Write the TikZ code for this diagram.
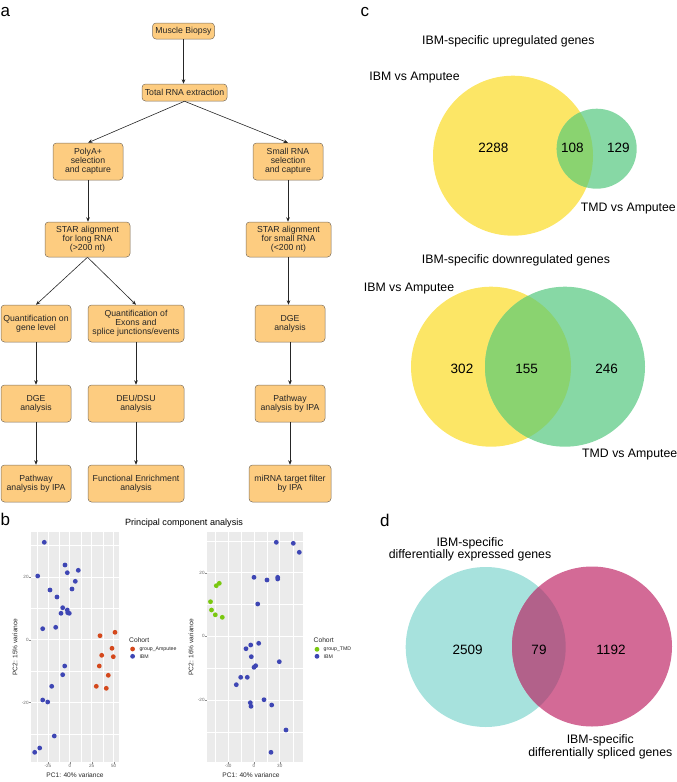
\documentclass[tikz,border=0pt]{standalone}
\usepackage{fontspec}
\setmainfont{Liberation Sans}
\usetikzlibrary{arrows.meta}
\definecolor{boxfill}{RGB}{253,204,128}
\definecolor{boxdraw}{RGB}{125,112,95}
\definecolor{ibmblue}{RGB}{62,70,180}
\definecolor{ampred}{RGB}{212,72,28}
\definecolor{tmdgreen}{RGB}{122,200,16}
\definecolor{panelgray}{RGB}{235,235,235}
\definecolor{vyellow}{RGB}{252,230,102}
\definecolor{vgreen}{RGB}{135,216,165}
\definecolor{vover}{RGB}{138,211,112}
\definecolor{vcyan}{RGB}{167,226,221}
\definecolor{vpink}{RGB}{211,106,150}
\definecolor{vpover}{RGB}{178,97,138}
\begin{document}
\begin{tikzpicture}[x=1pt,y=-1pt,
  flowbox/.style={draw=boxdraw, fill=boxfill, line width=0.5pt, rounded corners=3.5pt,
    align=center, inner sep=0pt, font=\fontsize{8.7}{9.2}\selectfont, text=black!85},
  arr/.style={-{Stealth[length=4.5pt,width=3.6pt]}, line width=0.6pt, black!85},
  panellbl/.style={font=\fontsize{17}{17}\selectfont, anchor=base west, inner sep=0pt},
  minorgrid/.style={white, line width=0.3pt},
  majorgrid/.style={white, line width=0.7pt},
  tickmark/.style={black!45, line width=0.4pt},
  ticklbl/.style={font=\fontsize{4.6}{5}\selectfont, text=black!60, inner sep=0.5pt},
  axtitle/.style={font=\fontsize{6.6}{7}\selectfont, text=black!85, inner sep=0pt},
  legtitle/.style={font=\fontsize{6.7}{7}\selectfont, text=black!85, anchor=west, inner sep=0pt},
  legtext/.style={font=\fontsize{5.2}{6}\selectfont, text=black!85, anchor=west, inner sep=0pt},
  venntitle/.style={font=\fontsize{12.3}{12.5}\selectfont, align=center, inner sep=0pt},
  vennnum/.style={font=\fontsize{13.5}{14}\selectfont, inner sep=0pt},
  ]
\useasboundingbox (0,0) rectangle (677,782);

% ---------------- panel a ----------------
\node[panellbl] (la) at (0.5,16.7) {a};
\node[flowbox, minimum width=62pt, minimum height=16pt] (biopsy) at (183.5,31) {Muscle Biopsy};
\node[flowbox, minimum width=85pt, minimum height=17pt] (total) at (184.5,92.5) {Total RNA extraction};
\node[flowbox, minimum width=70pt, minimum height=37pt] (polya) at (88,161.5) {PolyA+\\selection\\and capture};
\node[flowbox, minimum width=70pt, minimum height=37pt] (small) at (288,161.5) {Small RNA\\selection\\and capture};
\node[flowbox, minimum width=85pt, minimum height=35pt] (starl) at (87.5,239.5) {STAR alignment\\for long RNA\\(>200 nt)};
\node[flowbox, minimum width=85pt, minimum height=35pt] (stars) at (288.5,239.5) {STAR alignment\\for small RNA\\(<200 nt)};
\node[flowbox, minimum width=70pt, minimum height=37pt] (qgene) at (36,323.5) {Quantification on\\gene level};
\node[flowbox, minimum width=96pt, minimum height=37pt] (qexon) at (136,323.5) {Quantification of\\Exons and\\splice junctions/events};
\node[flowbox, minimum width=70pt, minimum height=37pt] (dger) at (290,323.5) {DGE\\analysis};
\node[flowbox, minimum width=70pt, minimum height=37pt] (dgel) at (36,403.5) {DGE\\analysis};
\node[flowbox, minimum width=96pt, minimum height=37pt] (deu) at (136,403.5) {DEU/DSU\\analysis};
\node[flowbox, minimum width=70pt, minimum height=37pt] (pathr) at (290,403.5) {Pathway\\analysis by IPA};
\node[flowbox, minimum width=70pt, minimum height=37pt] (pathl) at (36,483.5) {Pathway\\analysis by IPA};
\node[flowbox, minimum width=96pt, minimum height=37pt] (fea) at (136,483.5) {Functional Enrichment\\analysis};
\node[flowbox, minimum width=82pt, minimum height=37pt] (mirna) at (290,483.5) {miRNA target filter\\by IPA};

\draw[arr] (biopsy.south) -- (biopsy.south |- total.north);
\draw[arr] (total.south) -- (polya.north);
\draw[arr] (total.south) -- (small.north);
\draw[arr] (polya.south) -- (polya.south |- starl.north);
\draw[arr] (small.south) -- (small.south |- stars.north);
\draw[arr] (starl.south) -- (qgene.north);
\draw[arr] (starl.south) -- (qexon.north);
\draw[arr] (stars.south) -- (stars.south |- dger.north);
\draw[arr] (qgene.south) -- (dgel.north);
\draw[arr] (qexon.south) -- (deu.north);
\draw[arr] (dger.south) -- (pathr.north);
\draw[arr] (dgel.south) -- (pathl.north);
\draw[arr] (deu.south) -- (fea.north);
\draw[arr] (pathr.south) -- (mirna.north);

% ---------------- panel b ----------------
\node[panellbl] (lb) at (0.5,525) {b};
\node[font=\fontsize{9.1}{10}\selectfont, inner sep=0pt] (pcatitle) at (184,523.5) {Principal component analysis};

% left plot
\fill[panelgray] (31,532) rectangle (119,762);
\foreach \gx in {36.9,58.8,80.8,102.7} \draw[minorgrid] (\gx,532) -- (\gx,762);
\foreach \gy in {545.5,608.3,671.1,733.9} \draw[minorgrid] (31,\gy) -- (119,\gy);
\foreach \gx in {47.9,69.8,91.7,113.7} \draw[majorgrid] (\gx,532) -- (\gx,762);
\foreach \gy in {576.9,639.7,702.5} \draw[majorgrid] (31,\gy) -- (119,\gy);
\foreach \gy/\lab in {576.9/20,639.7/0,702.5/-20} {
  \draw[tickmark] (29.3,\gy) -- (31,\gy);
  \node[ticklbl, anchor=east] at (29.3,\gy) {\lab};
}
\foreach \gx/\lab in {47.9/-25,69.8/0,91.7/25,113.7/50} {
  \draw[tickmark] (\gx,762) -- (\gx,763.7);
  \node[ticklbl, anchor=north] at (\gx,764) {\lab};
}
\foreach \px/\py in {44.3/542.3,65/565,67.3/572.7,78.3/570.3,37.7/576,75.3/581.3,50/590,72/589,57/597,62.7/607.7,67.3/610,67.7/612.7,61/613.3,69.3/613.3,42.7/628.7,55.7/627.3,64.7/666,62.7/674.7,51.7/686.3,42.7/700,47.7/702,54.3/736,39.7/748,34.7/752.3}
  \fill[ibmblue] (\px,\py) circle[radius=2.4pt];
\foreach \px/\py in {100/635.7,115/632.3,112/648.3,101.7/655.3,113.3/656.7,99.3/666,108.3/675.3,96.3/686.3,106.3/688.3}
  \fill[ampred] (\px,\py) circle[radius=2.4pt];
\node[axtitle] (x1) at (75,775) {PC1: 40\% variance};
\node[axtitle, rotate=90] (y1) at (15,647) {PC2: 15\% variance};
\node[legtitle] (c1) at (129,639.7) {Cohort};
\fill[ampred] (132.6,649) circle[radius=2.4pt];
\fill[ibmblue] (132.6,656.3) circle[radius=2.4pt];
\node[legtext] (g1) at (139.3,649) {group\_Amputee};
\node[legtext] (i1) at (139.3,656.3) {IBM};

% right plot
\fill[panelgray] (207,532) rectangle (303,762);
\foreach \gx in {215.3,241.1,266.9,292.7} \draw[minorgrid] (\gx,532) -- (\gx,762);
\foreach \gy in {540.9,604.5,668.1,731.7} \draw[minorgrid] (207,\gy) -- (303,\gy);
\foreach \gx in {228.2,254,279.8} \draw[majorgrid] (\gx,532) -- (\gx,762);
\foreach \gy in {572.7,636.3,699.9} \draw[majorgrid] (207,\gy) -- (303,\gy);
\foreach \gy/\lab in {572.7/20,636.3/0,699.9/-20} {
  \draw[tickmark] (205.3,\gy) -- (207,\gy);
  \node[ticklbl, anchor=east] at (205.3,\gy) {\lab};
}
\foreach \gx/\lab in {228.2/-30,254/0,279.8/30} {
  \draw[tickmark] (\gx,762) -- (\gx,763.7);
  \node[ticklbl, anchor=north] at (\gx,764) {\lab};
}
\foreach \px/\py in {276.3/542.3,293.3/543.3,299.3/552.3,254/577.3,267/580,277.7/579,277.7/577.3,257.7/604,258.7/643.3,250.7/645,246/648.7,251.3/656.7,255.7/665.7,254/667.3,279.3/661.7,240.7/677.3,247.3/677.3,236.3/684.7,264/699.7,250.3/702.7,251/706.3,271.7/705,286/730,271/752.3}
  \fill[ibmblue] (\px,\py) circle[radius=2.4pt];
\foreach \px/\py in {216.3/585.7,219.3/583.3,210.5/601.7,211.5/610,215.3/614.8,222.3/617.3}
  \fill[tmdgreen] (\px,\py) circle[radius=2.4pt];
\node[axtitle] (x2) at (251,775) {PC1: 40\% variance};
\node[axtitle, rotate=90] (y2) at (191,647) {PC2: 16\% variance};
\node[legtitle] (c2) at (313.5,639.7) {Cohort};
\fill[tmdgreen] (317,649.3) circle[radius=2.4pt];
\fill[ibmblue] (317,656.3) circle[radius=2.4pt];
\node[legtext] (g2) at (323.5,649.3) {group\_TMD};
\node[legtext] (i2) at (323.5,656.3) {IBM};

% ---------------- panel c ----------------
\node[panellbl] (lc) at (360.5,16.7) {c};
\node[venntitle] (tup) at (508.3,41.7) {IBM-specific upregulated genes};
\node[venntitle] (ibm1) at (414.5,77.7) {IBM vs Amputee};
\fill[vyellow] (513,155.7) circle[radius=80pt];
\fill[vgreen] (596.7,148.7) circle[radius=40pt];
\begin{scope}
  \clip (513,155.7) circle[radius=80pt];
  \fill[vover] (596.7,148.7) circle[radius=40pt];
\end{scope}
\node[vennnum] (n1) at (493.3,148.3) {2288};
\node[vennnum] (n2) at (572.3,148.3) {108};
\node[vennnum] (n3) at (618.3,148.3) {129};
\node[venntitle] (tmd1) at (628.3,208.3) {TMD vs Amputee};

\node[venntitle] (tdown) at (516,260) {IBM-specific downregulated genes};
\node[venntitle] (ibm2) at (409,288.3) {IBM vs Amputee};
\fill[vyellow] (491,366.7) circle[radius=80pt];
\fill[vgreen] (565,366.7) circle[radius=80pt];
\begin{scope}
  \clip (491,366.7) circle[radius=80pt];
  \fill[vover] (565,366.7) circle[radius=80pt];
\end{scope}
\node[vennnum] (n4) at (462,369.3) {302};
\node[vennnum] (n5) at (526.7,369.3) {155};
\node[vennnum] (n6) at (606.7,369.3) {246};
\node[venntitle] (tmd2) at (629.7,455) {TMD vs Amputee};

% ---------------- panel d ----------------
\node[panellbl] (ld) at (380,526.7) {d};
\node[venntitle] (tde) at (470,549.2) {IBM-specific\\differentially expressed genes};
\fill[vcyan] (485.7,647) circle[radius=80pt];
\fill[vpink] (592,646.5) circle[radius=80pt];
\begin{scope}
  \clip (485.7,647) circle[radius=80pt];
  \fill[vpover] (592,646.5) circle[radius=80pt];
\end{scope}
\node[vennnum] (n7) at (467.7,650) {2509};
\node[vennnum] (n8) at (539,650) {79};
\node[vennnum] (n9) at (611,650) {1192};
\node[venntitle] (tds) at (600.3,746.7) {IBM-specific\\differentially spliced genes};
\end{tikzpicture}
\end{document}
